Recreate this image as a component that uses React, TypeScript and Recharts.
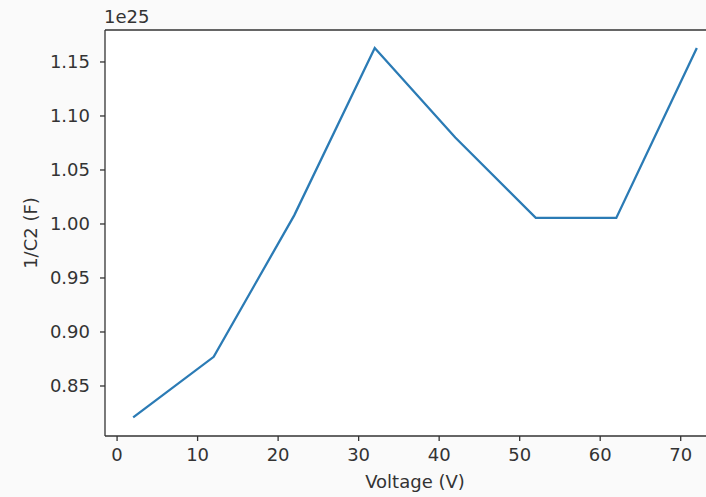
import { LineChart, Line, XAxis, YAxis, CartesianGrid, Label, ReferenceLine } from "recharts";

// values of 1/C^2, in units of 1e25 (the offset text shows the exponent)
const voltage = [2, 12, 22, 32, 42, 52, 62, 72];
const invC2 = [0.821, 0.877, 1.008, 1.163, 1.08, 1.0056, 1.0056, 1.163];
const xTicks = [0, 10, 20, 30, 40, 50, 60, 70];
const yTicks = [0.85, 0.9, 0.95, 1.0, 1.05, 1.1, 1.15];
const xDomain = [-1.5, 75.5];
const yDomain = [0.8037, 1.1796];

const data = voltage.map((v, i) => ({ voltage: v, value: invC2[i] }));

const FONT = "'DejaVu Sans', sans-serif";
const INK = "#333";

const App = () => {
  return (
    <div
      style={{
        position: "absolute",
        left: 0,
        top: 0,
        width: 706,
        height: 497,
        overflow: "hidden",
        background: "#fafafa",
        fontFamily: FONT,
      }}
    >
      <LineChart
        width={760}
        height={497}
        data={data}
        margin={{ top: 30, right: 35, bottom: 0, left: 0 }}
      >
        <CartesianGrid horizontal={false} vertical={false} fill="#fff" />
        <XAxis
          dataKey="voltage"
          type="number"
          domain={xDomain}
          ticks={xTicks}
          allowDataOverflow
          height={61}
          tickSize={5}
          tickMargin={7}
          stroke={INK}
          strokeWidth={1.3}
          tick={{ fill: INK, fontSize: 18, fontFamily: FONT }}
        >
          <Label
            value="Voltage (V)"
            position="insideBottom"
            offset={9}
            fill={INK}
            fontSize={18}
            fontFamily={FONT}
          />
        </XAxis>
        <YAxis
          type="number"
          domain={yDomain}
          ticks={yTicks}
          allowDataOverflow
          width={105}
          tickSize={5}
          tickMargin={10}
          stroke={INK}
          strokeWidth={1.3}
          tickFormatter={(v: number) => v.toFixed(2)}
          tick={{ fill: INK, fontSize: 18, fontFamily: FONT }}
        />
        {/* top spine */}
        <ReferenceLine y={yDomain[1]} stroke={INK} strokeWidth={1.3} />
        <Line
          type="linear"
          dataKey="value"
          stroke="#2b7bb5"
          strokeWidth={2.3}
          dot={false}
          isAnimationActive={false}
        />
      </LineChart>
      <div
        style={{
          position: "absolute",
          left: 104,
          top: 6,
          fontSize: 18,
          color: INK,
          lineHeight: "22px",
        }}
      >
        1e25
      </div>
      <div
        style={{
          position: "absolute",
          left: 30,
          top: 233,
          fontSize: 18,
          color: INK,
          whiteSpace: "nowrap",
          transform: "translate(-50%, -50%) rotate(-90deg)",
        }}
      >
        1/C2 (F)
      </div>
    </div>
  );
};

export default App;
